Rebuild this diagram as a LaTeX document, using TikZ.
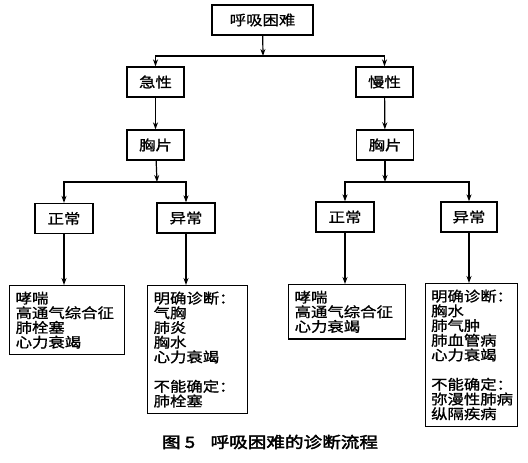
\documentclass[tikz,border=0pt]{standalone}
\usepackage{fontspec}
\newfontfamily\cjk[FakeStretch=1.17,FakeBold=1]{Noto Sans CJK SC}
\newfontfamily\cjkbold[FakeStretch=1.2,FakeBold=2.5]{Noto Sans CJK SC}
\usetikzlibrary{arrows.meta}

\begin{document}
\begin{tikzpicture}[
    x=1pt, y=-1pt,
    % Styles
    step box/.style={% For the small boxes with one word
        rectangle,
        draw,
        line width=1.3pt,
        minimum height=30pt,
        inner sep=2pt,
        font=\cjk\fontsize{14}{14.7}\selectfont,
        },
    list box/.style={% For the boxes with the lists
        rectangle,
        draw,
        line width=1.3pt,
        anchor=north west,
        align=left,
        inner xsep=6pt,
        inner ysep=6pt,
        font=\cjk\fontsize{14}{14.7}\selectfont,
        },
    ArrowC1/.style={% Arrows
        -{Stealth[length=7pt,width=5pt]},
        line width=1.2pt,
        },
    ]

    \useasboundingbox (0,0) rectangle (528,463);

    % Draw the boxes:
    % top
    \node [step box, minimum width=101pt] (dysp) at (262.5,20) {呼吸困难};
    % second row
    \node [step box, minimum width=57pt] (acute) at (155.5,82) {急性};
    \node [step box, minimum width=57pt] (chronic) at (384.5,82) {慢性};
    % third row
    \node [step box, minimum width=57pt] (cxrA) at (155.5,145) {胸片};
    \node [step box, minimum width=57pt] (cxrC) at (385,145) {胸片};
    % fourth row
    \node [step box, minimum width=58pt] (normA) at (64,218.5) {正常};
    \node [step box, minimum width=58pt] (abnA) at (186,218) {异常};
    \node [step box, minimum width=58pt] (normC) at (345,217) {正常};
    \node [step box, minimum width=56pt] (abnC) at (469,217) {异常};
    % bottom row
    \node [list box, text width=103pt] (resA) at (9,285) {哮喘\\高通气综合征\\肺栓塞\\心力衰竭};
    \node [list box, text width=88pt] (diagA) at (147,285) {明确诊断：\\气胸\\肺炎\\胸水\\心力衰竭\\[14.7pt]不能确定：\\肺栓塞};
    \node [list box, text width=105pt] (resC) at (288,284) {哮喘\\高通气综合征\\心力衰竭};
    \node [list box, text width=81pt, inner xsep=5.5pt] (diagC) at (425,283) {明确诊断：\\胸水\\肺气肿\\肺血管病\\心力衰竭\\[14.7pt]不能确定：\\弥漫性肺病\\纵隔疾病};

    % Caption
    \node [font=\cjkbold\fontsize{15.5}{16}\selectfont] (caption) at (270,442) {图 5\quad 呼吸困难的诊断流程};

    % Branch points
    \coordinate (j0) at (263,56);
    \coordinate (jA) at (157,182);
    \coordinate (jC) at (385,182);

    % Draw Arrows
    \draw [ArrowC1] (dysp) -- (j0);
    \draw [ArrowC1] (j0) -| (acute);
    \draw [ArrowC1] (j0) -| (chronic);
    \draw [ArrowC1] (acute) -- (cxrA);
    \draw [ArrowC1] (chronic) -- (cxrC);

    \draw [ArrowC1] (cxrA) -- (jA);
    \draw [ArrowC1] (jA) -| (normA);
    \draw [ArrowC1] (jA) -| (abnA);
    \draw [ArrowC1] (cxrC) -- (jC);
    \draw [ArrowC1] (jC) -| (normC);
    \draw [ArrowC1] (jC) -| (abnC);

    \draw [ArrowC1] (normA) -- (normA |- resA.north);
    \draw [ArrowC1] (abnA) -- (abnA |- diagA.north);
    \draw [ArrowC1] (normC) -- (normC |- resC.north);
    \draw [ArrowC1] (abnC) -- (abnC |- diagC.north);

\end{tikzpicture}
\end{document}
